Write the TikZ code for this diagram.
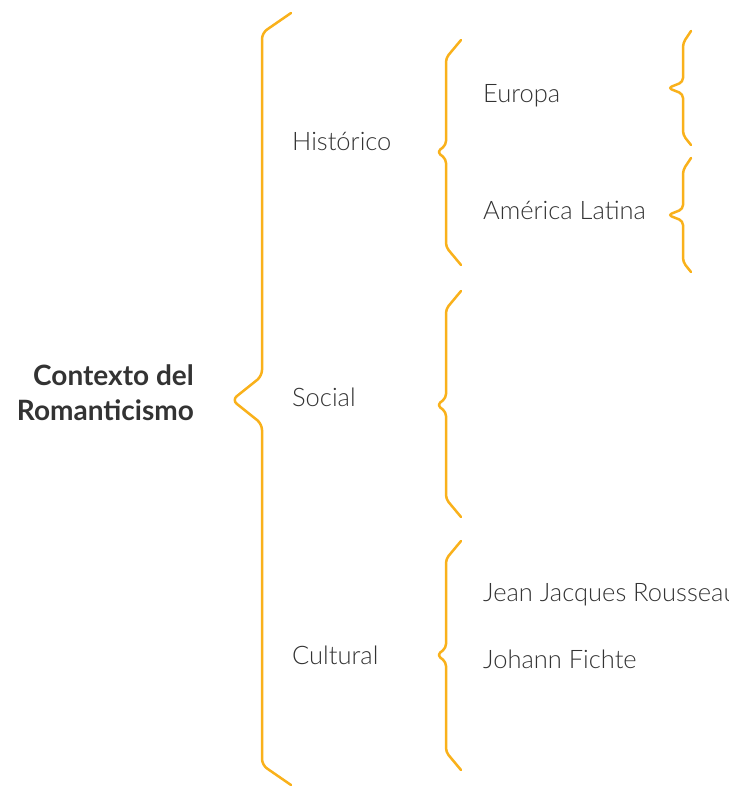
\documentclass[tikz,border=0pt]{standalone}
\usepackage{fontspec}
\setmainfont{Lato}[UprightFont={* Light},BoldFont={* Bold}]
\definecolor{brace}{HTML}{F9B11B}
\definecolor{txt}{HTML}{333333}
\begin{document}
\begin{tikzpicture}[x=1pt,y=-1pt,
  br/.style={draw=brace,line width=2.5pt,line cap=round,line join=round,rounded corners=6pt},
  brs/.style={draw=brace,line width=2.5pt,line cap=round,line join=round,rounded corners=4pt},
  lbl/.style={anchor=base west,inner sep=0pt,text=txt,font=\fontsize{25.5}{30}\selectfont},
  title/.style={anchor=base east,inner sep=0pt,text=txt,align=right,font=\fontsize{28}{35}\selectfont\bfseries}]
\useasboundingbox (0,0) rectangle (728,786);
% main brace
\draw[br] (291,13) -- (262,33) -- (262,376) -- (232,400) -- (262,424) -- (262,765) -- (291,785);
% second level braces
\draw[brs] (461,40) -- (446,58) -- (446,145) -- (437,152) -- (446,159) -- (446,247) -- (461,265);
\draw[brs] (461,291) -- (446,309) -- (446,398) -- (437,405) -- (446,412) -- (446,499) -- (461,517);
\draw[brs] (461,541) -- (446,559) -- (446,648) -- (437,655) -- (446,662) -- (446,752) -- (461,770);
% third level braces
\draw[brs] (691,31) -- (683,43) -- (683,82) -- (668,88) -- (683,94) -- (683,135) -- (691,145);
\draw[brs] (691,158) -- (683,170) -- (683,209) -- (668,215) -- (683,221) -- (683,262) -- (691,272);
% texts
\node[title] (ctx) at (194,420) {Contexto del\\Romanticismo};
\node[lbl] (his) at (292,151) {Histórico};
\node[lbl] (soc) at (292,406) {Social};
\node[lbl] (cul) at (292,664) {Cultural};
\node[lbl] (eur) at (483,103) {Europa};
\node[lbl] (ame) at (483,219) {América Latina};
\node[lbl] (jjr) at (483,601) {Jean Jacques Rousseau};
\node[lbl] (jf) at (483,668) {Johann Fichte};
\end{tikzpicture}
\end{document}
